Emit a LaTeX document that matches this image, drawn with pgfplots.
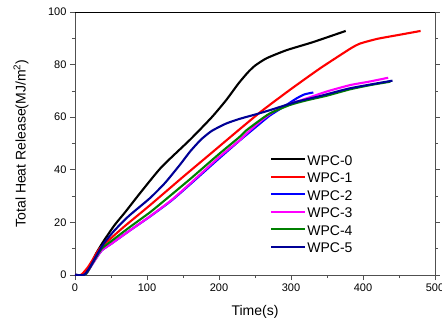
\documentclass[border=0pt]{standalone}
\usepackage{fontspec}
\setmainfont{Liberation Sans}
\usepackage{pgfplots}
\pgfplotsset{compat=1.18}
\definecolor{axgray}{HTML}{505050}
\definecolor{wgreen}{RGB}{0,128,0}
\definecolor{wnavy}{RGB}{0,0,150}
\definecolor{wred}{RGB}{255,0,0}
\definecolor{wblue}{RGB}{0,0,255}
\definecolor{wmag}{RGB}{255,0,255}
\pgfplotsset{
  curve/.style={draw=#1, line width=2.1pt, no markers, smooth, tension=0.35},
}
\begin{document}
\begin{tikzpicture}
\begin{axis}[
  scale only axis,
  width=360pt, height=263pt,
  at={(0,0)}, anchor=south west,
  xmin=0, xmax=500, ymin=0, ymax=100,
  xtick={0,100,...,500}, ytick={0,20,...,100},
  minor x tick num=1, minor y tick num=1,
  xtick pos=left, ytick pos=both,
  tick align=outside,
  major tick length=5pt, minor tick length=3pt,
  axis line style={axgray, line width=0.8pt},
  every tick/.style={axgray, line width=0.8pt},
  tick label style={font=\fontsize{11}{13}\selectfont},
  /pgf/number format/assume math mode=true,
  xlabel={Time(s)},
  ylabel={Total Heat Release(MJ/m\textsuperscript{2})},
  label style={font=\fontsize{14}{16}\selectfont},
  xlabel style={at={(axis description cs:0.5,-0.1407)}, anchor=center},
  ylabel style={at={(axis description cs:-0.15,0.5)}, anchor=center},
  legend cell align=left,
  legend style={at={(axis description cs:0.542,0.06)}, anchor=south west,
    draw=none, fill=none, inner sep=0pt, row sep=0pt,
    font=\fontsize{14}{16}\selectfont,
    nodes={inner xsep=1pt, inner ysep=0pt, text height=11pt, text depth=6.5pt}},
  legend image code/.code={\draw[#1] (0pt,0.35em) -- (34pt,0.35em);},
]
\addplot[curve=black] coordinates {(0,0)(10,0)(14,0.5)(20,3)(30,8.5)(40,13)(55,19)(70,24)(90,31)(120,41)(160,51.5)(190,60)(210,66.5)(227,72.8)(240,77)(250,79.6)(266,82.4)(294,85.5)(330,88.5)(376,92.8)};
\addlegendentry{WPC-0}
\addplot[curve=wred] coordinates {(0,0)(8,0)(12,1)(18,3)(25,6)(34,10)(50,14)(70,18.8)(104,26.5)(150,37.3)(190,46.5)(229,55.5)(260,62.5)(299,70.5)(340,78.5)(382,86)(396,88)(420,89.8)(450,91.3)(480,92.8)};
\addlegendentry{WPC-1}
\addplot[curve=wblue] coordinates {(0,0)(13,0)(17,1)(25,4.5)(37,9.3)(50,11.8)(75,16.7)(104,22.2)(134,28.3)(160,34.5)(200,44.3)(229,51.2)(250,56)(270,60.5)(290,64)(308,67.2)(319,68.7)(331,69.4)};
\addlegendentry{WPC-2}
\addplot[curve=wmag] coordinates {(0,0)(13,0)(17,1)(25,4.5)(37,9.3)(50,11.8)(75,16.7)(104,22.3)(134,28.5)(160,34.8)(200,44.8)(229,51.3)(243,55)(260,59)(275,62)(298,65)(320,67)(350,69.8)(382,72.2)(410,73.6)(435,75)};
\addlegendentry{WPC-3}
\addplot[curve=wgreen] coordinates {(0,0)(13,0)(17,1)(25,4.8)(37,10)(50,12.8)(75,18)(104,23.8)(125,28.5)(160,36.5)(200,46)(229,52.6)(238,55)(255,58.5)(271,61.5)(298,64.6)(320,66.3)(350,68.2)(382,70.6)(410,72.2)(438,73.5)};
\addlegendentry{WPC-4}
\addplot[curve=wnavy] coordinates {(0,0)(12,0)(16,1)(22,3.5)(30,7.5)(40,12)(55,17)(75,22.5)(104,29.2)(125,35)(146,42)(160,47)(175,51.5)(190,54.8)(210,57.6)(229,59.4)(250,61)(271,62.7)(308,65.9)(340,68)(382,71)(441,73.9)};
\addlegendentry{WPC-5}
\draw[black, line width=0.8pt] (rel axis cs:0,1) -- (rel axis cs:1,1);
\end{axis}
\pgfresetboundingbox
\path[use as bounding box] (-75pt,-47pt) rectangle (367pt,275pt);
\end{tikzpicture}
\end{document}
